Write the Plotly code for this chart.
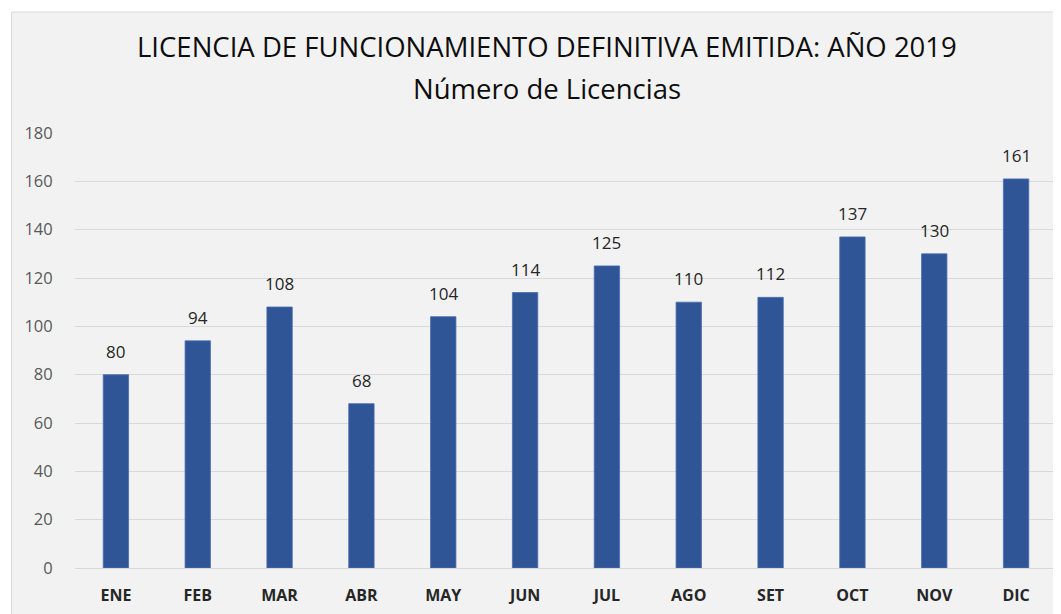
import plotly.graph_objects as go

months = ["ENE", "FEB", "MAR", "ABR", "MAY", "JUN", "JUL", "AGO", "SET", "OCT", "NOV", "DIC"]
licencias = [80, 94, 108, 68, 104, 114, 125, 110, 112, 137, 130, 161]
y_ticks = [0, 20, 40, 60, 80, 100, 120, 140, 160, 180]

# page has an 8px body margin, so the figure is drawn at (8, 8)
OFF = 8
W, H = 1053, 606
ml, mr, mt, mb = 66.5, 3.5, 125, 46
pw, ph = W - ml - mr, H - mt - mb
# absolute page coords of plot area
PL, PB = OFF + ml, OFF + H - mb


def px(xabs):
    return (xabs - PL) / pw


def py(yabs):
    return (PB - yabs) / ph


fig = go.Figure(go.Bar(
    x=months, y=licencias,
    marker=dict(color="#2F5597", line=dict(color="#4A6FB0", width=0.8)),
    hoverinfo="x+y",
))

for m, v in zip(months, licencias):
    fig.add_annotation(x=m, y=v, xref="x", yref="y", text=str(v), showarrow=False,
                       yanchor="bottom", yshift=10,
                       font=dict(family="Open Sans", size=17, color="#262626"))

fig.add_annotation(xref="paper", yref="paper", x=px(547), y=py(47), xanchor="center", yanchor="middle",
                   text="LICENCIA DE FUNCIONAMIENTO DEFINITIVA EMITIDA: AÑO 2019", showarrow=False,
                   font=dict(family="Open Sans", size=27.5, color="#0D0D0D"))
fig.add_annotation(xref="paper", yref="paper", x=px(547), y=py(88), xanchor="center", yanchor="middle",
                   text="Número de Licencias", showarrow=False,
                   font=dict(family="Open Sans", size=27.5, color="#0D0D0D"))

fig.add_shape(type="rect", xref="paper", yref="paper",
              x0=px(11), x1=px(1090), y0=py(650), y1=py(12),
              fillcolor="#F2F2F2", line=dict(color="#D9D9D9", width=1), layer="below")

fig.update_layout(
    width=W, height=H,
    margin=dict(l=ml, r=mr, t=mt, b=mb, pad=0),
    paper_bgcolor="white", plot_bgcolor="rgba(0,0,0,0)",
    bargap=0.69,
    showlegend=False,
    xaxis=dict(
        tickfont=dict(family="Open Sans", size=16, color="#262626", weight="bold"),
        showgrid=False, showline=False, ticks="outside", ticklen=13, tickcolor="rgba(0,0,0,0)",
    ),
    yaxis=dict(
        range=[0, 180], tickvals=y_ticks,
        tickfont=dict(family="Open Sans", size=16.5, color="#595959"),
        showgrid=True, gridcolor="#D9D9D9", gridwidth=1,
        zeroline=True, zerolinecolor="#D9D9D9", zerolinewidth=1,
        showline=False, ticks="outside", ticklen=18, tickcolor="rgba(0,0,0,0)",
    ),
)

fig.write_html("out.html")
